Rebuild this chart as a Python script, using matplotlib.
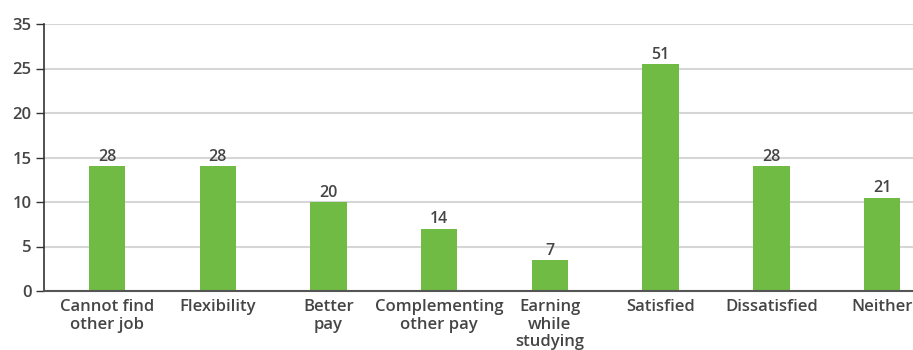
import matplotlib
matplotlib.use("Agg")
import matplotlib.pyplot as plt
import numpy as np

categories = ["Cannot find\nother job", "Flexibility", "Better\npay",
              "Complementing\nother pay", "Earning\nwhile\nstudying",
              "Satisfied", "Dissatisfied", "Neither"]
values = [28, 28, 20, 14, 7, 51, 28, 21]
tick_positions = [0, 5, 10, 15, 20, 25, 30]
tick_labels = ["0", "5", "10", "15", "20", "25", "35"]

plt.rcParams["font.family"] = ["Open Sans", "DejaVu Sans"]
text_color = "#454545"
bar_color = "#6fbb44"

fig = plt.figure(figsize=(9.13, 3.5), dpi=100)
ax = fig.add_axes([44 / 913, 1 - 291 / 350, 1 - 44 / 913, (291 - 24) / 350])

x = np.arange(len(categories))
heights = [v / 2 for v in values]
ax.bar(x, heights, width=0.33, color=bar_color, zorder=3)

for xi, h, v in zip(x, heights, values):
    ax.text(xi, h + 0.15, str(v), ha="center", va="bottom",
            fontsize=11.5, color=text_color, fontweight="semibold")

ax.set_xlim(-0.57, 7.28)
ax.set_ylim(0, 30)
ax.set_yticks(tick_positions)
ax.set_yticklabels(tick_labels)
ax.set_xticks(x)
ax.set_xticklabels(categories, linespacing=1.1)

ax.grid(axis="y", color="#d6d6d6", linewidth=1.5, zorder=0)
for s in ["top", "right"]:
    ax.spines[s].set_visible(False)
ax.spines["left"].set_color("#333333")
ax.spines["bottom"].set_color("#555555")
ax.spines["left"].set_linewidth(1.2)
ax.spines["bottom"].set_linewidth(1.5)
ax.spines["left"].set_zorder(4)
ax.spines["bottom"].set_zorder(4)

ax.tick_params(axis="y", length=6, width=1, color="#333333", pad=3,
               labelsize=12, labelcolor=text_color)
ax.tick_params(axis="x", length=0, pad=6, labelsize=12, labelcolor=text_color)
for lbl in ax.get_xticklabels() + ax.get_yticklabels():
    lbl.set_fontweight("semibold")

fig.savefig("out.png", dpi=100)
